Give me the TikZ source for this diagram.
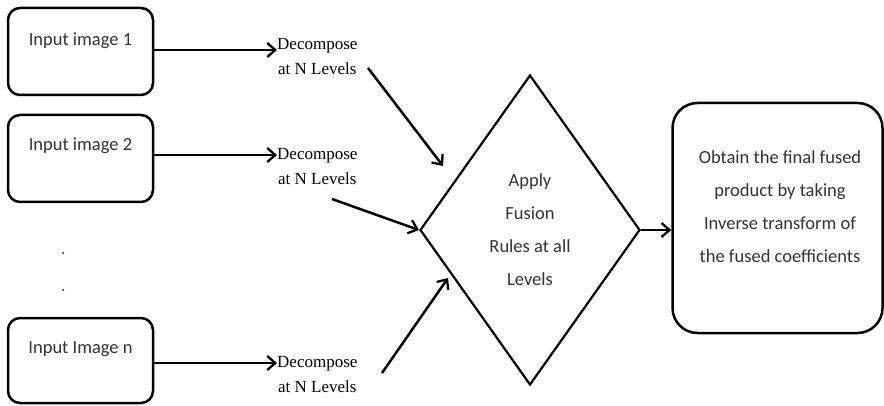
\documentclass[tikz,border=0pt]{standalone}
\usepackage{fontspec}
\setmainfont{Carlito}
\newfontfamily\decofont{Liberation Serif}
\usetikzlibrary{arrows.meta,shapes.geometric}

\begin{document}
\begin{tikzpicture}[x=1pt,y=-1pt,
  inbox/.style={draw,line width=2.5pt,rounded corners=12pt,minimum width=145pt,minimum height=87pt,inner sep=0pt},
  boxtext/.style={font=\fontsize{18.5}{22}\selectfont,text=black!80},
  deco/.style={font=\decofont\fontsize{17}{25}\selectfont,align=center,inner sep=0pt},
  flow/.style={line width=2.5pt,-{Straight Barb[length=8pt,width=14pt,line width=2.3pt]}},
]
\useasboundingbox (0,0) rectangle (884,406);

% input boxes
\node[inbox] (in1) at (80.5,51.5) {};
\node[inbox] (in2) at (80.5,158.5) {};
\node[inbox,minimum height=85pt] (inn) at (80.5,360.5) {};
\node[boxtext] (t1) at (80.5,41) {Input image 1};
\node[boxtext] (t2) at (80.5,146) {Input image 2};
\node[boxtext] (tn) at (80.5,349) {Input Image n};

% vertical ellipsis
\node[circle,fill=black!70,inner sep=0pt,minimum size=2.5pt] (d1) at (63,253) {};
\node[circle,fill=black!70,inner sep=0pt,minimum size=2.5pt] (d2) at (63,290) {};

% decomposition labels
\node[deco,anchor=west] (dc1) at (277,57) {Decompose\\at N Levels};
\node[deco,anchor=west] (dc2) at (277,167) {Decompose\\at N Levels};
\node[deco,anchor=west] (dcn) at (277,375) {Decompose\\at N Levels};

% fusion decision diamond
\node[diamond,draw,line width=2.2pt,minimum width=220pt,minimum height=310pt,inner sep=0pt,
      align=center,font=\fontsize{18.5}{33}\selectfont,text=black!80] (fuse) at (530,230)
  {Apply\\Fusion\\Rules at all\\Levels};

% final product box
\node[draw,line width=2.5pt,rounded corners=25pt,minimum width=210pt,minimum height=230pt,inner sep=0pt] (out) at (777.5,218) {};
\node[align=center,font=\fontsize{18.5}{33}\selectfont,text=black!80] (outt) at (780,207)
  {Obtain the final fused\\product by taking\\Inverse transform of\\the fused coefficients};

% connectors
\draw[flow] (in1.east |- 0,50) -- (dc1.west |- 0,50);
\draw[flow] (in2.east |- 0,155) -- (dc2.west |- 0,155);
\draw[flow] (inn.east |- 0,363) -- (dcn.west |- 0,363);

\coordinate (s1) at (368,68);
\coordinate (e1) at (443,166);
\coordinate (s2) at (332,199);
\coordinate (sn) at (382,373);
\coordinate (en) at (448,278);
\draw[flow] (s1) -- (e1);
\draw[flow] (s2) -- (fuse.west);
\draw[flow] (sn) -- (en);
\draw[flow] (fuse.east) -- (fuse.east -| out.west);
\end{tikzpicture}
\end{document}
